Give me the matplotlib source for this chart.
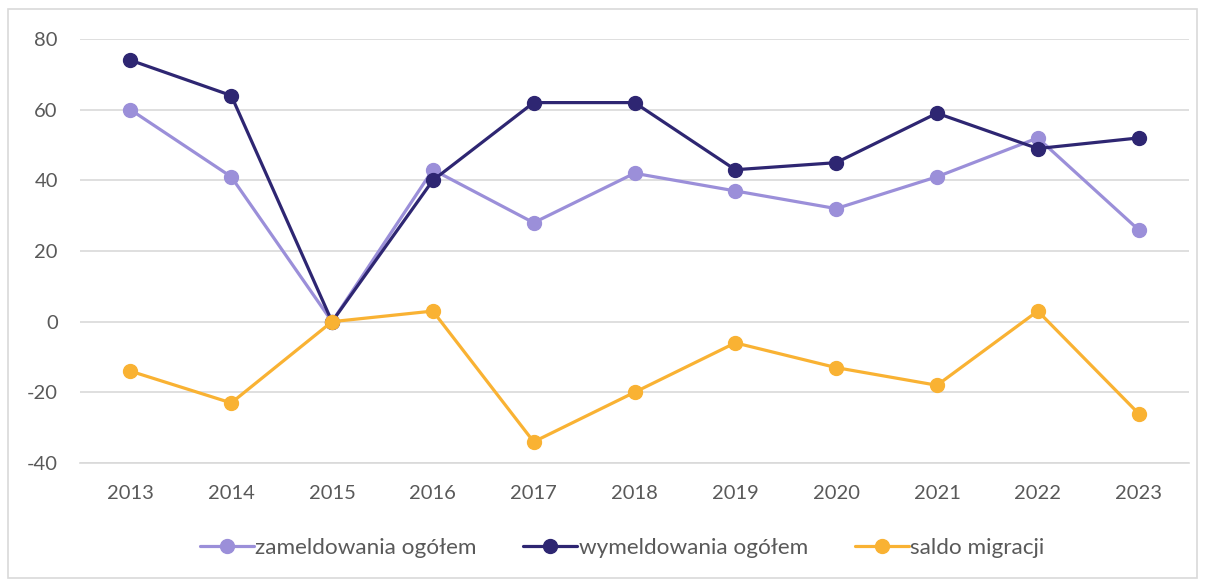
import matplotlib
matplotlib.use("Agg")
import matplotlib.pyplot as plt
from matplotlib.patches import Rectangle

years = ["2013", "2014", "2015", "2016", "2017", "2018", "2019", "2020", "2021", "2022", "2023"]
zameldowania = [60, 41, 0, 43, 28, 42, 37, 32, 41, 52, 26]
wymeldowania = [74, 64, 0, 40, 62, 62, 43, 45, 59, 49, 52]
saldo = [-14, -23, 0, 3, -34, -20, -6, -13, -18, 3, -26]
labels = ["zameldowania ogółem", "wymeldowania ogółem", "saldo migracji"]
colors = ["#9B8FD9", "#2E2672", "#F9B233"]
yticks = [-40, -20, 0, 20, 40, 60, 80]

plt.rcParams['font.family'] = ['Lato', 'DejaVu Sans']

fig = plt.figure(figsize=(12.05, 5.8), dpi=100)
fig.patches.append(Rectangle((8/1205, 2/580), 1189/1205, 569/580, transform=fig.transFigure,
                             fill=False, edgecolor="#D9D9D9", linewidth=1.2))
ax = fig.add_axes([80/1205, (580-463)/580, 1109/1205, 424/580])

x = list(range(len(years)))
for series, lab, col in zip([zameldowania, wymeldowania, saldo], labels, colors):
    ax.plot(x, series, color=col, lw=2.3, marker="o", markersize=10, label=lab,
            solid_capstyle="round")

ax.set_xlim(-0.5, len(years) - 0.5)
ax.set_ylim(-40, 80)
ax.set_yticks(yticks)
ax.set_yticklabels([str(v) for v in yticks])
ax.set_xticks(x)
ax.set_xticklabels(years)
ax.grid(axis="y", color="#D9D9D9", lw=1.2)
ax.set_axisbelow(True)
for s in ["top", "right", "left"]:
    ax.spines[s].set_visible(False)
ax.spines["bottom"].set_color("#D9D9D9")
ax.spines["bottom"].set_linewidth(1.2)
ax.tick_params(axis="both", length=0, labelsize=14.5, labelcolor="#595959")
ax.tick_params(axis="y", pad=16)
ax.tick_params(axis="x", pad=16)

leg = fig.legend(loc="center", bbox_to_anchor=(622/1205, 1 - 548/580), ncol=3, frameon=False,
                 fontsize=16.2, handlelength=2.4, columnspacing=2.1, handletextpad=0.05)
for t in leg.get_texts():
    t.set_color("#595959")

fig.savefig("out.png", dpi=100)
